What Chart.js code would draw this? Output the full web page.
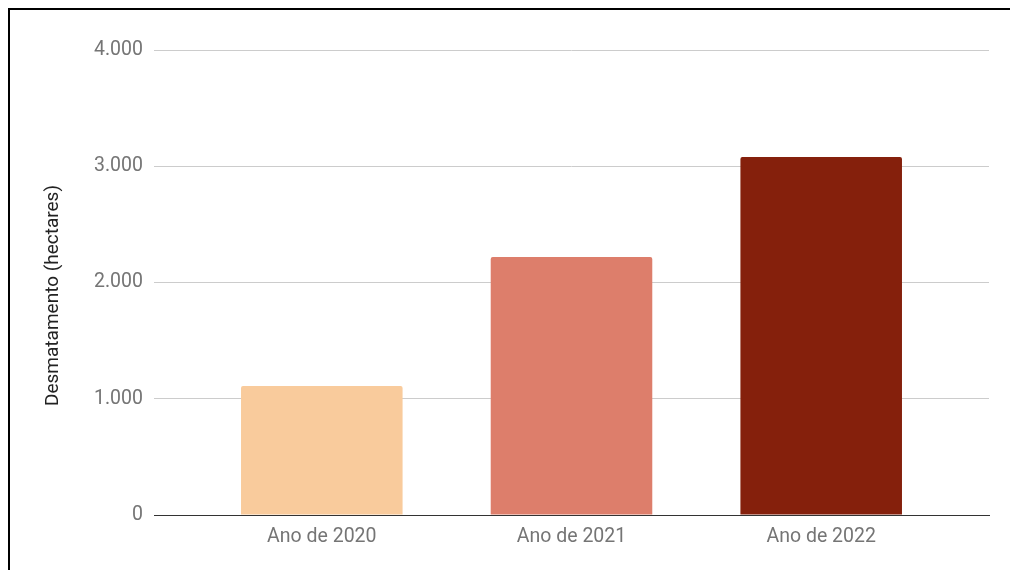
<!DOCTYPE html>
<html>
<head>
<meta charset="utf-8">
<script src="https://cdn.jsdelivr.net/npm/chart.js@4"></script>
<style>
  body { margin: 0; background: #fff; }
  #wrap { position: relative; width: 1010px; height: 570px; overflow: hidden; }
  #frame { position: absolute; left: 8px; top: 8px; right: -10px; bottom: -10px; border-top: 2px solid #000; border-left: 2px solid #000; }
  canvas { position: absolute; left: 0; top: 0; }
</style>
</head>
<body>
<div id="wrap">
  <div id="frame"></div>
  <canvas id="chart" width="1010" height="570"></canvas>
</div>
<script>
const categories = ['Ano de 2020', 'Ano de 2021', 'Ano de 2022'];
const deforestation = [1110, 2220, 3080];
const barColors = ['#f9cb9c', '#dd7e6b', '#85200c'];
const yTicks = [0, 1000, 2000, 3000, 4000];
const yTitle = 'Desmatamento (hectares)';

const fmt = v => String(v).replace(/\B(?=(\d{3})+(?!\d))/g, '.');

// google-style layout: bars sit inside the gridlines with some extra room at both ends
const xSpread = {
  id: 'xSpread',
  afterLayout(chart) {
    const x = chart.scales.x;
    x._startValue = -0.672;
    x._valueRange = 3.344;
  }
};

// rotated axis title, drawn a little below the middle like the original
const yTitlePlugin = {
  id: 'yTitle',
  afterDraw(chart) {
    const {ctx, chartArea} = chart;
    ctx.save();
    ctx.translate(53, (chartArea.top + chartArea.bottom) / 2 + 13);
    ctx.rotate(-Math.PI / 2);
    ctx.font = '19px "Liberation Sans Narrow", "Roboto", sans-serif';
    ctx.fillStyle = '#222';
    ctx.textAlign = 'center';
    ctx.textBaseline = 'middle';
    ctx.fillText(yTitle, 0, 0);
    ctx.restore();
  }
};

new Chart(document.getElementById('chart'), {
  type: 'bar',
  data: {
    labels: categories,
    datasets: [{
      data: deforestation,
      backgroundColor: barColors,
      borderRadius: 2,
      barPercentage: 0.647,
      categoryPercentage: 1
    }]
  },
  options: {
    responsive: false,
    animation: false,
    layout: { padding: { top: 50, right: 21, left: 0, bottom: 0 } },
    plugins: { legend: { display: false }, tooltip: { enabled: false } },
    scales: {
      x: {
        grid: { display: false, drawTicks: false },
        border: { color: '#333', width: 1 },
        ticks: { color: '#757575', font: { family: 'Roboto', size: 19.5 }, padding: 10 },
        afterFit: s => { s.height = 55; }
      },
      y: {
        min: 0,
        max: 4000,
        afterBuildTicks: s => { s.ticks = yTicks.map(v => ({ value: v })); },
        grid: { color: '#ccc', drawTicks: false },
        border: { display: false },
        ticks: { color: '#757575', font: { family: 'Roboto', size: 19.5 }, padding: 11, callback: v => fmt(v) },
        afterFit: s => { s.width = 154; }
      }
    }
  },
  plugins: [xSpread, yTitlePlugin]
});
</script>
</body>
</html>
